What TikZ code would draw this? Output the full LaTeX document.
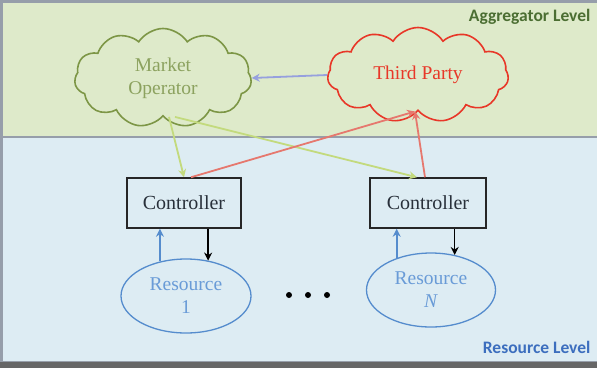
\documentclass[tikz,border=0pt]{standalone}
\usepackage{fontspec}
\setmainfont{Liberation Serif}
\newfontfamily\lblfont{Carlito}
\usetikzlibrary{shapes.symbols,shapes.geometric,arrows.meta}
\definecolor{bggreen}{RGB}{222,234,202}
\definecolor{bgblue}{RGB}{221,236,243}
\definecolor{frame}{RGB}{150,158,170}
\definecolor{moline}{RGB}{125,150,70}
\definecolor{motext}{RGB}{140,162,95}
\definecolor{tpred}{RGB}{232,55,40}
\definecolor{lav}{RGB}{150,160,222}
\definecolor{lgreen}{RGB}{195,218,125}
\definecolor{lred}{RGB}{230,120,110}
\definecolor{resblue}{RGB}{85,140,205}
\definecolor{restext}{RGB}{105,155,215}
\definecolor{aggtext}{RGB}{75,110,50}
\definecolor{reslbl}{RGB}{60,110,190}
\definecolor{ctrltext}{RGB}{40,48,58}
\tikzset{
  cloudnode/.style={cloud, cloud puffs=11, cloud puff arc=115, aspect=1.7, line width=1.6pt, align=center, font=\rmfamily\fontsize{19.5}{23}\selectfont, inner sep=0pt},
  ctrlbox/.style={draw=black!85, line width=1.5pt, fill=bgblue, minimum width=114pt, minimum height=50pt, font=\rmfamily\fontsize{20}{23}\selectfont, text=ctrltext},
  resnode/.style={ellipse, draw=resblue, line width=1.3pt, minimum width=130pt, minimum height=74pt, align=center, text=restext, font=\rmfamily\fontsize{19.5}{23}\selectfont, inner sep=0pt},
  arr/.style={line width=1.8pt, -{Stealth[length=8pt,width=8pt]}},
  dotnode/.style={circle, fill=black, inner sep=0pt, minimum size=6pt},
  lvl/.style={font=\lblfont\bfseries\fontsize{17.5}{20}\selectfont, anchor=east}
}
\begin{document}
\begin{tikzpicture}[x=1pt,y=-1pt]
\useasboundingbox (0,0) rectangle (597,368);
\fill[frame] (0,0) rectangle (597,368);
\fill[bggreen] (3,3) rectangle (597,136);
\fill[bgblue] (3,138) rectangle (597,361);
\fill[black!60] (0,362) rectangle (597,368);

\node[cloudnode, draw=moline, text=motext, minimum width=177pt, minimum height=99pt] (mo) at (163,78) {Market\\Operator};
\node[cloudnode, draw=tpred, text=tpred, minimum width=181pt, minimum height=95pt] (tp) at (418,75) {Third Party};

\node[ctrlbox] (c1) at (184,203) {Controller};
\node[ctrlbox, minimum width=116pt] (c2) at (428,203) {Controller};

\node[resnode] (r1) at (186,296) {Resource\\1};
\node[resnode, minimum width=129pt] (r2) at (431,290) {Resource\\\textit{N}};

\node[dotnode] (d1) at (289,295) {};
\node[dotnode] (d2) at (308,295) {};
\node[dotnode] (d3) at (327,295) {};

\node[lvl, text=aggtext] (agg) at (594,17) {Aggregator Level};
\node[lvl, text=reslbl] (rl) at (594,347) {Resource Level};

\draw[arr, draw=lav] (tp.west) -- (mo.east);
\draw[arr, draw=lgreen] ([xshift=6pt]mo.south) -- (c1.north);
\draw[arr, draw=lgreen] ([xshift=12pt]mo.south) -- ([xshift=-11pt]c2.north);
\draw[arr, draw=lred] ([xshift=7pt]c1.north) -- ([xshift=-3pt]tp.south);
\draw[arr, draw=lred] ([xshift=-3pt]c2.north) -- ([xshift=-3pt]tp.south);

\draw[arr, draw=resblue] (r1.127) -- (r1.127 |- c1.south);
\draw[arr, draw=black, line width=1.5pt] (r1.58 |- c1.south) -- (r1.58);
\draw[arr, draw=resblue] (r2.137) -- (r2.137 |- c2.south);
\draw[arr, draw=black, line width=1.5pt] (r2.56 |- c2.south) -- (r2.56);
\end{tikzpicture}
\end{document}
